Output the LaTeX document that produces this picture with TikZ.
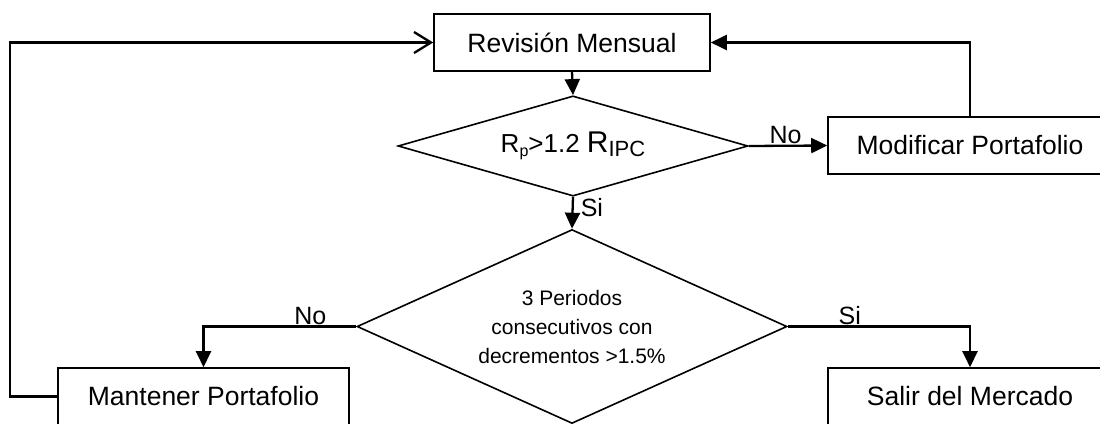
\documentclass[tikz,border=0pt]{standalone}
\usepackage{fontspec}
\setmainfont{Liberation Sans}
\usetikzlibrary{shapes.geometric,arrows.meta}
\begin{document}
\begin{tikzpicture}[x=1pt,y=-1pt,
  box/.style={draw,line width=1.6pt,minimum height=57pt,inner sep=0pt,font=\fontsize{26.5}{30}\selectfont},
  dec/.style={draw,diamond,line width=1.6pt,inner sep=0pt,aspect=2},
  conn/.style={line width=2.3pt,-{Triangle[length=16pt,width=15pt]}},
  openconn/.style={line width=2.3pt,-{Straight Barb[length=17pt,width=21pt]}},
  lab/.style={font=\fontsize{25}{28}\selectfont,inner sep=1pt}]
\useasboundingbox (0,0) rectangle (1100,423);
\node[box,minimum width=276pt] (rev) at (572,42.5) {Revisión Mensual};
\node[dec,minimum width=350pt,minimum height=92pt] (d1) at (573,146)
  {{\fontsize{26}{30}\selectfont R}\raisebox{-4pt}{\fontsize{16}{18}\selectfont p}{\fontsize{26}{30}\selectfont >1.2 }{\fontsize{30}{32}\selectfont R}\raisebox{-4pt}{\fontsize{22}{24}\selectfont IPC}};
\node[box,minimum width=284pt] (mod) at (970,145.5) {Modificar Portafolio};
\node[dec,minimum width=430pt,minimum height=194pt,align=center,font=\fontsize{21}{29}\selectfont] (d2) at (572,326.5)
  {3 Periodos\\consecutivos con\\decrementos >1.5\%};
\node[box,minimum width=291pt] (man) at (203.5,396.5) {Mantener Portafolio};
\node[box,minimum width=284pt] (sal) at (970,396.5) {Salir del Mercado};
\coordinate (lc) at (10,396.5);
\draw[conn] (rev.south) -- (d1.north);
\draw[conn] (d1.east) -- node[lab,above,pos=0.47] {No} (mod.west);
\draw[conn] (mod.north) |- (rev.east);
\draw[conn] (d1.south) -- node[lab,right,pos=0.35,xshift=6pt] {Si} (d2.north);
\draw[conn] (d2.west) -| node[lab,above,pos=0.15] {No} (man.north);
\draw[conn] (d2.east) -| node[lab,above,pos=0.17] {Si} (sal.north);
\draw[openconn] (man.west) -- (lc) |- (rev.west);
\end{tikzpicture}
\end{document}
